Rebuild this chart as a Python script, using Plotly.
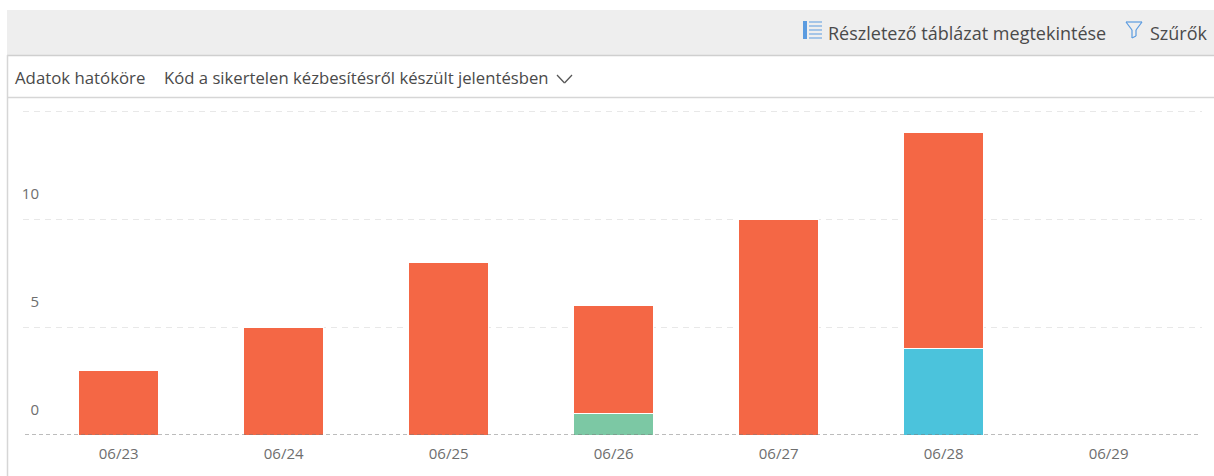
import plotly.graph_objects as go

W, H = 1214, 476
categories = ["06/23", "06/24", "06/25", "06/26", "06/27", "06/28", "06/29"]
series_orange = [3, 5, 8, 5, 10, 10, 0]
series_green = [0, 0, 0, 1, 0, 0, 0]
series_blue = [0, 0, 0, 0, 0, 4, 0]
y_ticks = [0, 5, 10, 15]
y_tick_labels = ["0", "5", "10", ""]

def px(x): return x / W
def py(y): return 1 - y / H

TXT = "#4A4A4A"
FONT = "Open Sans, Noto Sans, sans-serif"

fig = go.Figure()
for name, vals, col in [
    ("Green", series_green, "#7CC8A4"),
    ("Blue", series_blue, "#4BC3DC"),
    ("Orange", series_orange, "#F46745"),
]:
    fig.add_trace(go.Bar(x=categories, y=vals, name=name, width=0.485,
                         marker=dict(color=col, line=dict(color="#ffffff", width=1))))

def rect(x0, y0, x1, y1, col):
    return dict(type="rect", xref="paper", yref="paper", x0=px(x0), x1=px(x1), y0=py(y0), y1=py(y1),
                fillcolor=col, line=dict(width=0), layer="below")

def line(x0, y0, x1, y1, col, w=1, layer="above"):
    return dict(type="line", xref="paper", yref="paper", x0=px(x0), x1=px(x1), y0=py(y0), y1=py(y1),
                line=dict(color=col, width=w), layer=layer)

BLUE = "#5A9BE0"
shapes = [
    rect(7, 10, 1214, 55, "#EEEEEE"),
    line(7, 55.5, 1214, 55.5, "#CFCFCF", 1.5),
    line(7, 97.5, 1214, 97.5, "#D6D6D6", 1.5),
    line(7.5, 55, 7.5, 476, "#D6D6D6", 1.5),
    # baseline
    dict(type="line", xref="paper", yref="y", x0=px(25), x1=px(1200), y0=0, y1=0,
         line=dict(color="#7A7A7A", width=1.2, dash="4px,3px"), layer="above"),
    # chevron
    line(557, 75, 564.5, 83, "#555555", 1.2),
    line(564.5, 83, 572, 75, "#555555", 1.2),
    # funnel
    line(1126, 22, 1142, 22, BLUE, 1.2),
    line(1126, 22, 1132, 30, BLUE, 1.2),
    line(1142, 22, 1136, 30, BLUE, 1.2),
    line(1132, 30, 1132, 38, BLUE, 1.2),
    line(1136, 30, 1136, 36, BLUE, 1.2),
    line(1132, 38, 1136, 36, BLUE, 1.2),
    # list icon
    rect(803, 21, 807, 39, BLUE),
]
for y in [22, 26, 30, 34, 38]:
    shapes.append(line(809, y, 822, y, BLUE, 1))

def label(text, x, y, size):
    return dict(text=text, x=px(x), y=py(y), xref="paper", yref="paper", xanchor="left", yanchor="middle",
                xshift=-2, showarrow=False, font=dict(family=FONT, size=size, color=TXT))

annotations = [
    label("Részletező táblázat megtekintése", 828, 33, 18),
    label("Szűrők", 1150, 33, 18),
    label("Adatok hatóköre", 15, 78, 16.8),
    label("Kód a sikertelen kézbesítésről készült jelentésben", 164, 78, 16.7),
]

fig.update_layout(
    width=W, height=H, autosize=False,
    margin=dict(l=0, r=0, t=0, b=0),
    paper_bgcolor="#ffffff", plot_bgcolor="#ffffff",
    barmode="stack", showlegend=False,
    shapes=shapes, annotations=annotations,
    font=dict(family=FONT, color="#666666", size=12),
    xaxis=dict(domain=[px(23), px(1202)], range=[-0.58, 6.566], type="category",
               categoryorder="array", categoryarray=categories,
               showgrid=False, zeroline=False, showline=False, ticks="",
               tickfont=dict(size=15, color="#6E6E6E"), ticklabelstandoff=8),
    yaxis=dict(domain=[py(435), py(97)], range=[0, 15.65],
               anchor="free", position=px(39),
               tickmode="array", tickvals=y_ticks, ticktext=y_tick_labels,
               ticklabelshift=-25,
               gridcolor="#E8E8E8", griddash="6px,5px", gridwidth=1,
               zeroline=False, showline=False, ticks="",
               tickfont=dict(size=15, color="#6E6E6E")),
)
fig.write_html("out.html", config={"displayModeBar": False},
               post_script="document.body.style.margin='0';document.body.style.overflow='hidden';")
